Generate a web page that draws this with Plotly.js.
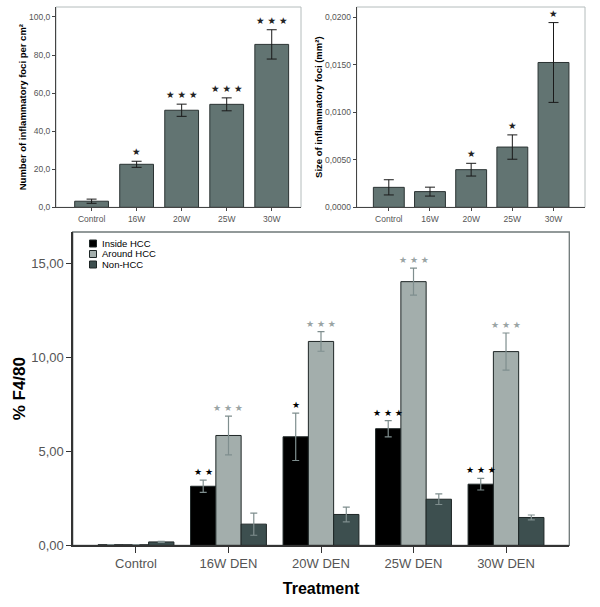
<!DOCTYPE html>
<html>
<head>
<meta charset="utf-8">
<script src="https://cdn.plot.ly/plotly-3.0.1.min.js"></script>
<style>html,body{margin:0;padding:0;background:#fff;}#chart{width:600px;height:607px;}</style>
</head>
<body>
<div id="chart"></div>
<script>
// ---- data ----
var topCats = ['Control', '16W', '20W', '25W', '30W'];
var fociNumber = [3.2, 22.6, 51.0, 54.1, 85.6];
var fociNumberErr = [1.1, 1.6, 3.2, 3.4, 7.7];
var fociNumberStars = ['', '★', '★ ★ ★', '★ ★ ★', '★ ★ ★'];
var fociSize = [0.0021, 0.00165, 0.00396, 0.00634, 0.01524];
var fociSizeErr = [0.0008, 0.00047, 0.00067, 0.00128, 0.0042];
var fociSizeStars = ['', '', '★', '★', '★'];

var treatCats = ['Control', '16W DEN', '20W DEN', '25W DEN', '30W DEN'];
var seriesNames = ['Inside HCC', 'Around HCC', 'Non-HCC'];
var insideHCC = [0.03, 3.14, 5.77, 6.20, 3.25];
var insideErr = [0.01, 0.33, 1.26, 0.43, 0.31];
var aroundHCC = [0.03, 5.84, 10.84, 14.02, 10.30];
var aroundErr = [0.01, 1.03, 0.52, 0.72, 0.99];
var nonHCC = [0.18, 1.125, 1.64, 2.45, 1.48];
var nonErr = [0.03, 0.59, 0.39, 0.28, 0.13];
var insideStars = ['', '★ ★', '★', '★ ★ ★', '★ ★ ★'];
var aroundStars = ['', '★ ★ ★', '★ ★ ★', '★ ★ ★', '★ ★ ★'];

// ---- styles ----
var topBar = '#627472';
var seriesColors = ['#000000', '#a3aeac', '#3d4f4f'];
var FONT = 'Liberation Sans, Arial, sans-serif';
var W = 600, H = 607;
function dx(a, b) { return [a / W, b / W]; }
function dy(top, bottom) { return [(H - bottom) / H, (H - top) / H]; }

var traces = [];
traces.push({
  type: 'bar', x: topCats, y: fociNumber, xaxis: 'x', yaxis: 'y',
  marker: {color: topBar, line: {color: '#2b3333', width: 1}},
  error_y: {type: 'data', array: fociNumberErr, color: '#1a1a1a', thickness: 1, width: 5},
  width: 0.75, showlegend: false, hoverinfo: 'skip'
});
traces.push({
  type: 'bar', x: topCats, y: fociSize, xaxis: 'x2', yaxis: 'y2',
  marker: {color: topBar, line: {color: '#2b3333', width: 1}},
  error_y: {type: 'data', array: fociSizeErr, color: '#1a1a1a', thickness: 1, width: 5},
  width: 0.75, showlegend: false, hoverinfo: 'skip'
});
var bottomVals = [insideHCC, aroundHCC, nonHCC];
var bottomErrs = [insideErr, aroundErr, nonErr];
for (var s = 0; s < 3; s++) {
  traces.push({
    type: 'bar', name: seriesNames[s], x: treatCats, y: bottomVals[s], xaxis: 'x3', yaxis: 'y3',
    marker: {color: seriesColors[s], line: {color: '#1e2626', width: 1}},
    error_y: {type: 'data', array: bottomErrs[s], color: '#7f8e8e', thickness: 1.2, width: 3.5},
    showlegend: false, hoverinfo: 'skip'
  });
}

var annotations = [];
function starAnn(xref, yref, x, y, text, size, color, shift) {
  if (!text) return;
  annotations.push({xref: xref, yref: yref, x: x, y: y, text: text, showarrow: false,
    yanchor: 'bottom', yshift: shift, font: {family: 'DejaVu Sans', size: size, color: color}});
}
for (var i = 0; i < topCats.length; i++) {
  starAnn('x', 'y', i, fociNumber[i] + fociNumberErr[i], fociNumberStars[i], 9.5, '#222', 2);
  starAnn('x2', 'y2', i, fociSize[i] + fociSizeErr[i], fociSizeStars[i], 9.5, '#222', 2);
}
var groupW = 0.82, barW = groupW / 3;
for (var j = 0; j < treatCats.length; j++) {
  starAnn('x3', 'y3', j - barW, insideHCC[j] + insideErr[j], insideStars[j], 9, '#000', 1);
  starAnn('x3', 'y3', j, aroundHCC[j] + aroundErr[j], aroundStars[j], 9, '#9aa4a4', 1);
}
// custom legend
var shapes = [];
for (var k = 0; k < 3; k++) {
  var yc = 243.5 + k * 10.5;
  shapes.push({type: 'rect', xref: 'paper', yref: 'paper',
    x0: 89.5 / W, x1: 96.5 / W, y0: (H - yc - 3.5) / H, y1: (H - yc + 3.5) / H,
    fillcolor: seriesColors[k], line: {color: '#1e2626', width: 1}});
  annotations.push({xref: 'paper', yref: 'paper', x: 100.5 / W, y: (H - yc) / H, text: seriesNames[k],
    showarrow: false, xanchor: 'left', yanchor: 'middle', borderpad: 0,
    font: {family: FONT, size: 9.5, color: '#000'}});
}
// frames
shapes.push({type: 'rect', xref: 'x domain', yref: 'y domain', x0: 0, x1: 1, y0: 0, y1: 1, line: {color: '#b4bcbc', width: 1}, layer: 'below'});
shapes.push({type: 'rect', xref: 'x2 domain', yref: 'y2 domain', x0: 0, x1: 1, y0: 0, y1: 1, line: {color: '#b4bcbc', width: 1}, layer: 'below'});
shapes.push({type: 'rect', xref: 'x3 domain', yref: 'y3 domain', x0: 0, x1: 1, y0: 0, y1: 1, line: {color: '#6f7878', width: 1.3}, layer: 'below'});

var tickFontSmall = {family: FONT, size: 8.5, color: '#555'};
var layout = {
  width: W, height: H, margin: {l: 0, r: 0, t: 0, b: 0},
  paper_bgcolor: '#fff', plot_bgcolor: '#fff',
  separators: ',.', barmode: 'group', bargap: 0.18, bargroupgap: 0,
  showlegend: false,
  xaxis: {domain: dx(56, 301), anchor: 'y', type: 'category', range: [-0.79, 4.65],
    showline: true, linecolor: '#444', linewidth: 1, ticks: 'outside', ticklen: 3, tickcolor: '#444',
    tickfont: tickFontSmall, showgrid: false, zeroline: false, fixedrange: true},
  yaxis: {domain: dy(7, 207.3), anchor: 'x', range: [0, 105.25], tickvals: [0, 20, 40, 60, 80, 100],
    tickformat: '.1f', showline: true, linecolor: '#444', linewidth: 1, ticks: 'outside', ticklen: 3, tickcolor: '#444',
    tickfont: tickFontSmall, showgrid: false, zeroline: false,
    title: {text: 'Number of inflammatory foci per cm²', font: {family: FONT, size: 9.5, color: '#000', weight: 'bold'}, standoff: 0}},
  xaxis2: {domain: dx(356.7, 585), anchor: 'y2', type: 'category', range: [-0.78, 4.765],
    showline: true, linecolor: '#444', linewidth: 1, ticks: 'outside', ticklen: 3, tickcolor: '#444',
    tickfont: tickFontSmall, showgrid: false, zeroline: false},
  yaxis2: {domain: dy(7, 207.3), anchor: 'x2', range: [0, 0.02108], tickvals: [0, 0.005, 0.01, 0.015, 0.02],
    tickformat: '.4f', showline: true, linecolor: '#444', linewidth: 1, ticks: 'outside', ticklen: 3, tickcolor: '#444',
    tickfont: tickFontSmall, showgrid: false, zeroline: false,
    title: {text: 'Size of inflammatory foci (mm²)', font: {family: FONT, size: 9.5, color: '#000', weight: 'bold'}, standoff: 0}},
  xaxis3: {domain: dx(72.7, 569.3), anchor: 'y3', type: 'category', range: [-0.684, 4.684],
    showline: true, linecolor: '#333', linewidth: 1.3, ticks: 'outside', ticklen: 6, tickcolor: '#333',
    tickfont: {family: FONT, size: 13, color: '#555'}, showgrid: false, zeroline: false,
    title: {text: 'Treatment', font: {family: FONT, size: 16, color: '#000', weight: 'bold'}, standoff: 12}},
  yaxis3: {domain: dy(232, 545.3), anchor: 'x3', range: [0, 16.66], tickvals: [0, 5, 10, 15],
    tickformat: '.2f', showline: true, linecolor: '#333', linewidth: 1.3, ticks: 'outside', ticklen: 5, tickcolor: '#333',
    tickfont: {family: FONT, size: 13, color: '#555'}, showgrid: false, zeroline: false,
    title: {text: '% F4/80', font: {family: FONT, size: 17, color: '#000', weight: 'bold'}, standoff: 1}},
  annotations: annotations, shapes: shapes
};
Plotly.newPlot('chart', traces, layout, {displayModeBar: false, staticPlot: true});
</script>
</body>
</html>
